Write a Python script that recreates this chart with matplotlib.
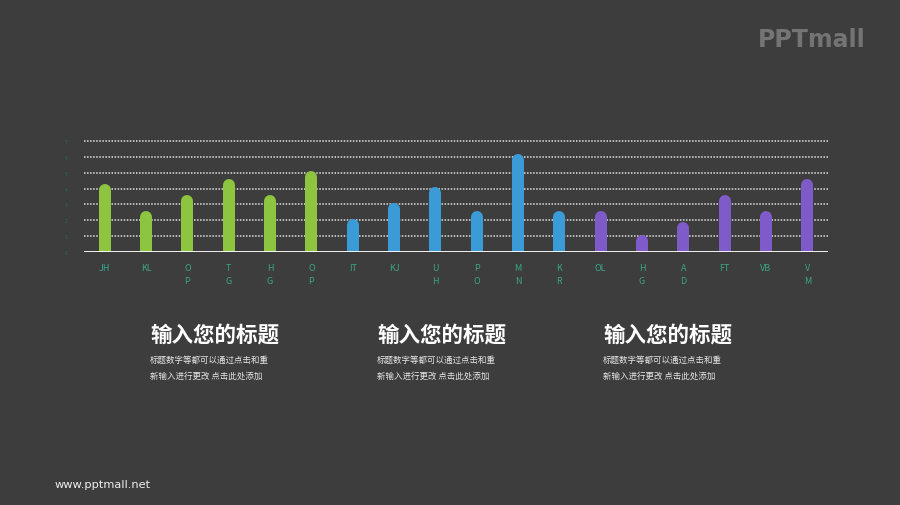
import numpy as np
import matplotlib.pyplot as plt

plt.rcParams['font.family'] = ['Noto Sans CJK SC', 'DejaVu Sans']

# data
categories = ['JH', 'KL', 'O\nP', 'T\nG', 'H\nG', 'O\nP',
              'IT', 'KJ', 'U\nH', 'P\nO', 'M\nN', 'K\nR',
              'OL', 'H\nG', 'A\nD', 'FT', 'VB', 'V\nM']
values = [4.3, 2.6, 3.6, 4.6, 3.6, 5.1,
          2.1, 3.1, 4.1, 2.6, 6.2, 2.6,
          2.6, 1.1, 1.9, 3.6, 2.6, 4.6]
groups = [0] * 6 + [1] * 6 + [2] * 6
group_colors = ['#8dc540', '#3b9bd6', '#7f5bc9']
y_ticks = [0, 1, 2, 3, 4, 5, 6, 7]

block_title = '输入您的标题'
block_lines = ['标题数字等都可以通过点击和重', '新输入进行更改 点击此处添加']

bg = '#3d3d3d'
fig = plt.figure(figsize=(9, 5.06), dpi=100, facecolor=bg)

ymax = 7.2
px_per_unit = (253 - 142) / 7
top_px = 253 - ymax * px_per_unit
ax = fig.add_axes([84 / 900, (506 - 253) / 506, (828 - 84) / 900, (253 - top_px) / 506])
ax.set_facecolor(bg)

x = np.arange(len(categories))
ax.set_xlim(-0.5, len(categories) - 0.5)
ax.set_ylim(0, ymax)

# dotted grid
for t in y_ticks[1:]:
    ax.axhline(t, color='#e0e0e0', lw=1.1, ls=(0, (1, 1)), zorder=1)
ax.axhline(0, color='white', lw=1.3, zorder=4)

# rounded bars: line with round cap, top cap ends at the value
bar_px = 12
r_units = (bar_px / 2) / px_per_unit
for xi, v, g in zip(x, values, groups):
    ax.plot([xi, xi], [-1, v - r_units], color=group_colors[g],
            lw=bar_px * 72 / 100, solid_capstyle='round', zorder=3)

ax.set_xticks(x)
ax.set_xticklabels(categories, color='#3aa586', fontsize=6.5, linespacing=1.5)
ax.set_yticks(y_ticks)
ax.set_yticklabels([str(t) for t in y_ticks], color='#2f6b55', fontsize=3.5)
ax.tick_params(length=0, pad=8)
ax.tick_params(axis='y', pad=12)
for s in ax.spines.values():
    s.set_visible(False)

# text blocks
for bx in [150, 377, 603]:
    fig.text(bx / 900, 1 - 335 / 506, block_title, color='white', fontsize=15.5,
             fontweight='bold', va='center', ha='left')
    fig.text(bx / 900, 1 - 360 / 506, block_lines[0], color='#e8e8e8', fontsize=6.1,
             va='center', ha='left')
    fig.text(bx / 900, 1 - 376 / 506, block_lines[1], color='#e8e8e8', fontsize=6.1,
             va='center', ha='left')

# logo and website
fig.text(812 / 900, 1 - 40 / 506, 'PPTmall', color='#747474', fontsize=17,
         fontweight='bold', va='center', ha='center', family=['DejaVu Sans'])
fig.text(55 / 900, 1 - 485 / 506, 'www.pptmall.net', color='#eeeeee', fontsize=8.2,
         va='center', ha='left', family=['DejaVu Sans'])

fig.savefig('out.png', dpi=100, facecolor=bg)
